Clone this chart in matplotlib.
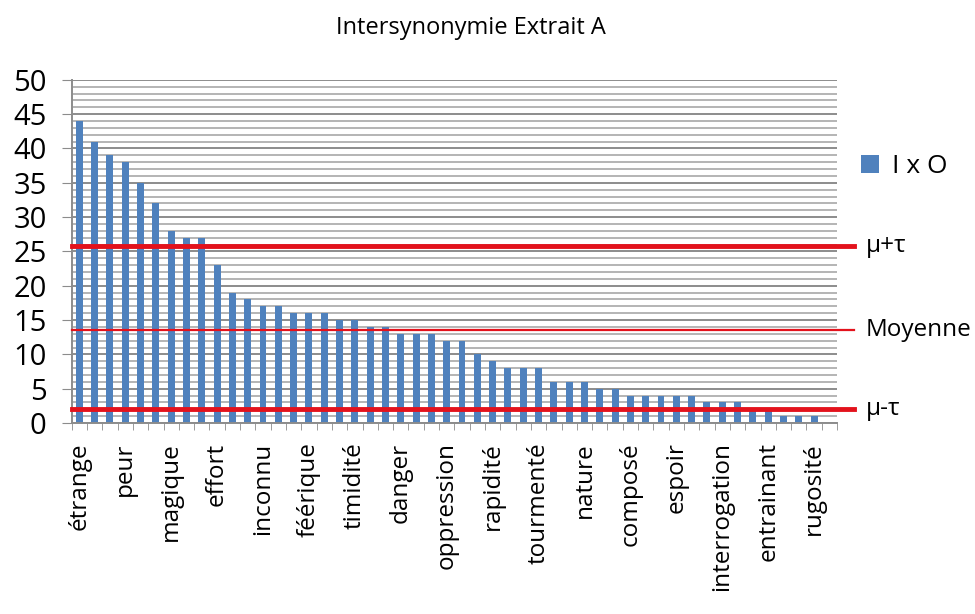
import matplotlib.pyplot as plt

categories = ['étrange', 'peur', 'magique', 'effort', 'inconnu', 'féérique',
              'timidité', 'danger', 'oppression', 'rapidité', 'tourmenté',
              'nature', 'composé', 'espoir', 'interrogation', 'entrainant',
              'rugosité']
values = [44, 41, 39, 38, 35, 32, 28, 27, 27, 23, 19, 18, 17, 17, 16, 16, 16,
          15, 15, 14, 14, 13, 13, 13, 12, 12, 10, 9, 8, 8, 8, 6, 6, 6, 5, 5,
          4, 4, 4, 4, 4, 3, 3, 3, 2, 2, 1, 1, 1, 0]
ref_lines = [('μ+τ', 25.8, 3.5), ('Moyenne', 13.5, 1.6), ('μ-τ', 2.0, 3.5)]

plt.rcParams['font.family'] = ['Open Sans', 'DejaVu Sans']

fig = plt.figure(figsize=(9.75, 6.14), dpi=100)
ax = fig.add_axes([0.0735, 0.311, 0.785, 0.559])

n = len(values)
x = list(range(n))

# light grid every unit, darker every 5
for y in range(0, 51):
    c = '#8c8c8c' if y % 5 == 0 else '#b4b4b4'
    ax.axhline(y, color=c, lw=1.4, zorder=0)

ax.bar(x, values, width=0.45, color='#4f81bd', zorder=2, label='I x O')

for name, v, lw in ref_lines:
    ax.plot([-0.5, 50.6], [v, v], color='#e3121c', lw=lw, clip_on=False, zorder=3)
    ax.text(51.4, v, name, va='center', ha='left', fontsize=17.5, clip_on=False)

ax.set_xlim(-0.5, n - 0.5)
ax.set_ylim(0, 50)
ax.set_yticks(range(0, 51, 5))
ax.tick_params(axis='y', labelsize=21, length=7, color='#8c8c8c', pad=11)

ax.set_xticks(range(0, n, 3))
ax.set_xticklabels(categories, rotation=90, fontsize=17.5)
ax.set_xticks([i - 0.5 for i in range(n + 1)], minor=True)
ax.tick_params(axis='x', which='major', length=0, pad=14)
ax.tick_params(axis='x', which='minor', length=5, color='#8c8c8c')

for s in ['top', 'right']:
    ax.spines[s].set_visible(False)
for s in ['left', 'bottom']:
    ax.spines[s].set_color('#8c8c8c')
    ax.spines[s].set_linewidth(1.4)

ax.legend(loc='upper left', bbox_to_anchor=(1.0, 0.853), frameon=False,
          fontsize=19, handlelength=0.7, handleheight=0.7, handletextpad=0.5)

fig.text(0.483, 0.955, 'Intersynonymie Extrait A', ha='center', va='center', fontsize=17)

fig.savefig('out.png', dpi=100)
